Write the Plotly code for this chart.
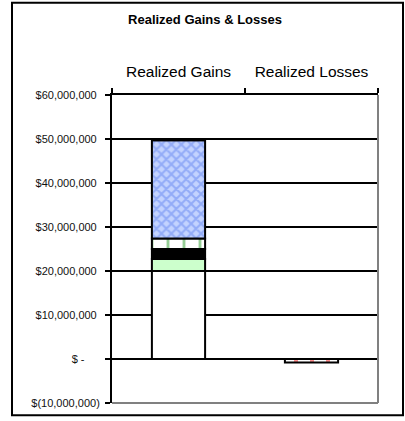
import plotly.graph_objects as go

categories = ["Realized Gains", "Realized Losses"]
base_white = [20.0e6, 0]
light_green = [2.7e6, 0]
black_seg = [2.3e6, 0]
green_dash = [2.4e6, 0]
blue_hatch = [22.3e6, 0]
red_dash = [0, -0.8e6]

tick_vals = [60e6, 50e6, 40e6, 30e6, 20e6, 10e6, 0, -10e6]
tick_text = ["$60,000,000\u00a0", "$50,000,000\u00a0", "$40,000,000\u00a0", "$30,000,000\u00a0",
             "$20,000,000\u00a0", "$10,000,000\u00a0", "$ -\u2007\u2007\u00a0", "$(10,000,000)"]

FONT = "Liberation Sans, Arial, sans-serif"
outline = dict(color="black", width=2)

fig = go.Figure()
fig.add_bar(x=categories, y=base_white, marker=dict(color="white", line=outline), name="Segment 1")
fig.add_bar(x=categories, y=light_green, marker=dict(color="#CCFFCC", line=outline), name="Segment 2")
fig.add_bar(x=categories, y=black_seg, marker=dict(color="black", line=outline), name="Segment 3")
fig.add_bar(x=categories, y=green_dash,
            marker=dict(color="white", line=outline,
                        pattern=dict(shape="|", fgcolor="#2E9E2E", bgcolor="white", size=16, solidity=0.18)),
            name="Segment 4")
fig.add_bar(x=categories, y=blue_hatch,
            marker=dict(color="#A9BEFF", line=outline,
                        pattern=dict(shape="x", fgcolor="#6284F0", bgcolor="#C3D3FF", size=7, solidity=0.5)),
            name="Segment 5")
fig.add_bar(x=categories, y=red_dash,
            marker=dict(color="white", line=outline,
                        pattern=dict(shape="|", fgcolor="#FF2222", bgcolor="white", size=16, solidity=0.25)),
            name="Segment 6")

W, H = 405, 421
ml, mr, mt, mb = 112, 27, 95, 14
pw, ph = W - ml - mr, H - mt - mb

def px_x(p):
    return (p - ml) / pw

def px_y(p):
    return (H - mb - p) / ph

shapes = [
    dict(type="line", xref="paper", yref="paper", x0=1, x1=1, y0=0, y1=1,
         line=dict(color="#808080", width=2), layer="above"),
    dict(type="line", xref="paper", yref="paper", x0=0, x1=1, y0=0, y1=0,
         line=dict(color="#808080", width=2), layer="above"),
    dict(type="rect", xref="paper", yref="paper", x0=px_x(12), x1=px_x(403), y0=px_y(419.5), y1=px_y(1.5),
         line=dict(color="black", width=2), fillcolor="rgba(0,0,0,0)", layer="above"),
]

fig.update_layout(
    width=W, height=H,
    margin=dict(l=ml, r=mr, t=mt, b=mb, pad=0),
    paper_bgcolor="white", plot_bgcolor="white",
    barmode="relative", bargap=0.6,
    showlegend=False,
    font=dict(family=FONT, color="black"),
    title=dict(text="<b>Realized Gains & Losses</b>", font=dict(size=13, family=FONT, color="black"),
               x=205 / W, xref="container", xanchor="center", y=1 - 19 / H, yref="container", yanchor="middle"),
    shapes=shapes,
)
fig.update_xaxes(side="top", type="category", showline=True, linecolor="black", linewidth=2,
                 ticks="outside", tickson="boundaries", ticklen=5, tickwidth=2, tickcolor="black",
                 ticklabelstandoff=10,
                 tickfont=dict(size=15.5, family=FONT, color="black"), showgrid=False)
fig.update_yaxes(range=[-10e6, 60e6], tickvals=tick_vals, ticktext=tick_text,
                 showline=True, linecolor="black", linewidth=2,
                 ticks="outside", ticklen=5, tickwidth=2, tickcolor="black",
                 tickfont=dict(size=11, family=FONT, color="#111111"), ticklabelstandoff=3,
                 showgrid=True, gridcolor="black", gridwidth=2,
                 zeroline=True, zerolinecolor="black", zerolinewidth=2)

fig.write_html("out.html", config={"displayModeBar": False},
               post_script="document.body.style.margin='0px';")
